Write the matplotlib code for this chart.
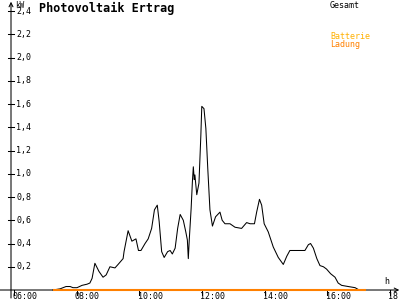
import matplotlib
matplotlib.use("Agg")
import matplotlib.pyplot as plt

# Gesamt (kW) over the day, decimal hours
hours = [7.24, 7.47, 7.66, 7.79, 7.88, 8.01, 8.17, 8.33, 8.42, 8.49, 8.58, 8.71,
         8.84, 8.94, 9.06, 9.22, 9.32, 9.48, 9.51, 9.64, 9.76, 9.89, 9.97, 10.05,
         10.18, 10.28, 10.39, 10.48, 10.57, 10.63, 10.71, 10.79, 10.90, 10.98, 11.05,
         11.14, 11.22, 11.30, 11.40, 11.48, 11.53, 11.56, 11.59, 11.65, 11.69, 11.72,
         11.75, 11.77, 11.83, 11.90, 11.96, 11.99, 12.06, 12.12, 12.18, 12.25, 12.33,
         12.43, 12.57, 12.64, 12.73, 12.89, 13.05, 13.26, 13.42, 13.53, 13.67, 13.74,
         13.83, 13.90, 13.98, 14.11, 14.27, 14.43, 14.59, 14.70, 14.80, 14.96, 15.28,
         15.39, 15.46, 15.55, 15.66, 15.76, 15.87, 15.97, 16.10, 16.24, 16.34, 16.45,
         16.66, 16.88, 17.01]
gesamt_kw = [0, 0.01, 0.03, 0.03, 0.02, 0.02, 0.04, 0.05, 0.06, 0.10, 0.23, 0.16,
             0.11, 0.13, 0.20, 0.19, 0.22, 0.27, 0.33, 0.51, 0.42, 0.44, 0.34, 0.34,
             0.40, 0.44, 0.53, 0.69, 0.73, 0.59, 0.33, 0.28, 0.33, 0.34, 0.31,
             0.36, 0.53, 0.65, 0.60, 0.50, 0.43, 0.27, 0.43, 0.70, 0.93, 1.06,
             0.95, 0.99, 0.82, 0.92, 1.33, 1.58, 1.56, 1.39, 1.05, 0.69, 0.55,
             0.63, 0.67, 0.60, 0.57, 0.57, 0.54, 0.53, 0.58, 0.57, 0.57, 0.67,
             0.78, 0.73, 0.57, 0.50, 0.37, 0.28, 0.22, 0.29, 0.34, 0.34, 0.34,
             0.39, 0.40, 0.36, 0.27, 0.21, 0.20, 0.18, 0.14, 0.11, 0.06, 0.04,
             0.03, 0.02, 0]

# Batterie Ladung: flat zero
ladung_hours = [7.24, 17.23]
ladung_kw = [0, 0]

y_ticks = [0.2, 0.4, 0.6, 0.8, 1.0, 1.2, 1.4, 1.6, 1.8, 2.0, 2.2, 2.4]
x_ticks = [6, 8, 10, 12, 14, 16, 18]
x_labels = ["06:00", "08:00", "10:00", "12:00", "14:00", "16:00", "18:00"]

ORANGE = "#ff8000"
GOLD = "#ffb000"
MONO = "DejaVu Sans Mono"
LW = 0.75  # about one pixel

fig = plt.figure(figsize=(4, 3), dpi=100)
ax = fig.add_axes([0, 0, 1, 1])
ax.set_xlim(5.553, 18.313)
ax.set_ylim(-0.086, 2.495)
ax.axis("off")

# axes with arrows
ax.annotate("", xy=(5.904, 2.48), xytext=(5.904, -0.069),
            arrowprops=dict(arrowstyle="->", lw=LW, color="black",
                            mutation_scale=7, shrinkA=0, shrinkB=0))
ax.annotate("", xy=(18.29, 0), xytext=(5.553, 0),
            arrowprops=dict(arrowstyle="->", lw=LW, color="black",
                            mutation_scale=7, shrinkA=0, shrinkB=0))

for v in y_ticks:
    ax.plot([5.809, 6.0], [v, v], color="black", lw=LW)
    ax.text(6.07, v, f"{v:.1f}".replace(".", ","), fontsize=6, family=MONO,
            ha="left", va="center")

for h, lab in zip(x_ticks, x_labels):
    ax.plot([h, h], [0, -0.04], color="black", lw=LW)
    ax.text(h - 0.06, -0.02, lab, fontsize=6, family=MONO, ha="left", va="top")

ax.plot(hours, gesamt_kw, color="black", lw=LW, zorder=3)
ax.plot(ladung_hours, ladung_kw, color=ORANGE, lw=1.5, zorder=4,
        solid_capstyle="butt")

fig.text(39 / 400, 1 - 2 / 300, "Photovoltaik Ertrag", fontsize=8.5,
         family=MONO, weight="bold", ha="left", va="top")
fig.text(15 / 400, 1 - 1 / 300, "kW", fontsize=5.5, family=MONO,
         ha="left", va="top")
fig.text(384 / 400, 1 - 277 / 300, "h", fontsize=6, family=MONO,
         ha="left", va="top")
fig.text(330 / 400, 1 - 1 / 300, "Gesamt", fontsize=6, family=MONO,
         ha="left", va="top")
fig.text(330 / 400, 1 - 32 / 300, "Batterie", fontsize=6, family=MONO,
         color=GOLD, ha="left", va="top")
fig.text(330 / 400, 1 - 40 / 300, "Ladung", fontsize=6, family=MONO,
         color=ORANGE, ha="left", va="top")

fig.savefig("out.png", dpi=100)
